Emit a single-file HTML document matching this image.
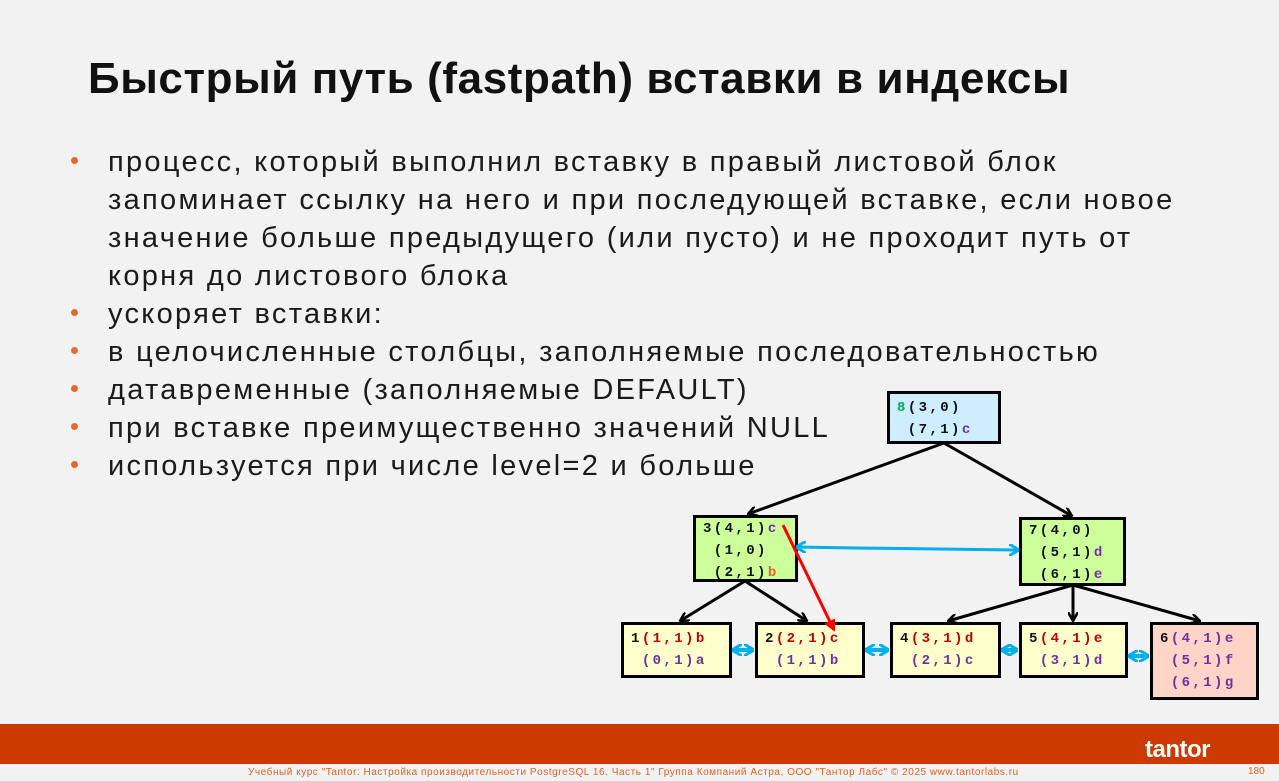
<!DOCTYPE html>
<html><head><meta charset="utf-8"><style>
body{margin:0;width:1279px;height:781px;background:#f2f2f2;position:relative;overflow:hidden;font-family:"Liberation Sans",sans-serif}
.t{position:absolute;left:88px;top:54px;font-size:44px;font-weight:bold;color:#111;white-space:nowrap;letter-spacing:0.6px}
.b{position:absolute;left:108px;font-size:29px;color:#1a1a1a;white-space:nowrap;line-height:38px;letter-spacing:2.3px}
.d{position:absolute;left:71px;width:7px;height:7px;border-radius:50%;background:#e8692e}
.n{position:absolute;border:3px solid #000;box-sizing:border-box;font-family:"Liberation Mono",monospace;font-size:14px;font-weight:bold;letter-spacing:2.4px;line-height:22px;padding:3px 0 0 7px;white-space:pre;color:#111}
.r{color:#c00000}.p{color:#7030a0}.g{color:#00b050}.o{color:#f06020}
.band{position:absolute;left:0;top:724px;width:1279px;height:40px;background:#cc3a00}
.f{position:absolute;top:767px;left:248px;font-size:10px;color:#e06020;white-space:nowrap;letter-spacing:0.55px}
</style></head><body>
<div class="t">Быстрый путь (fastpath) вставки в индексы</div>
<div class="d" style="top:157px"></div>
<div class="b" style="top:143px">процесс, который выполнил вставку в правый листовой блок<br>запоминает ссылку на него и при последующей вставке, если новое<br>значение больше предыдущего (или пусто) и не проходит путь от<br>корня до листового блока</div>
<div class="d" style="top:309px"></div>
<div class="b" style="top:295px">ускоряет вставки:</div>
<div class="d" style="top:347px"></div>
<div class="b" style="top:333px">в целочисленные столбцы, заполняемые последовательностью</div>
<div class="d" style="top:385px"></div>
<div class="b" style="top:371px">датавременные (заполняемые DEFAULT)</div>
<div class="d" style="top:423px"></div>
<div class="b" style="top:409px">при вставке преимущественно значений NULL</div>
<div class="d" style="top:461px"></div>
<div class="b" style="top:447px">используется при числе level=2 и больше</div>

<div class="n" style="left:887px;top:391px;width:114px;height:53px;background:#cdeeff"><span class="g">8</span>(3,0)
 (7,1)<span class="p">c</span></div>
<div class="n" style="left:693px;top:515px;width:105px;height:67px;background:#ccff99;padding-top:0px">3(4,1)<span class="p">c</span>
 (1,0)
 (2,1)<span class="o">b</span></div>
<div class="n" style="left:1019px;top:517px;width:107px;height:69px;background:#ccff99;padding-top:0px">7(4,0)
 (5,1)<span class="p">d</span>
 (6,1)<span class="p">e</span></div>
<div class="n" style="left:621px;top:622px;width:111px;height:56px;background:#ffffcc">1<span class="r">(1,1)b</span>
 <span class="p">(0,1)a</span></div>
<div class="n" style="left:755px;top:622px;width:110px;height:56px;background:#ffffcc">2<span class="r">(2,1)c</span>
 <span class="p">(1,1)b</span></div>
<div class="n" style="left:890px;top:622px;width:111px;height:56px;background:#ffffcc">4<span class="r">(3,1)d</span>
 <span class="p">(2,1)c</span></div>
<div class="n" style="left:1019px;top:622px;width:109px;height:56px;background:#ffffcc">5<span class="r">(4,1)e</span>
 <span class="p">(3,1)d</span></div>
<div class="n" style="left:1150px;top:622px;width:109px;height:78px;background:#ffd5c8">6<span class="p">(4,1)e</span>
 <span class="p">(5,1)f</span>
 <span class="p">(6,1)g</span></div>

<svg style="position:absolute;left:0;top:0" width="1279" height="781">
<defs>
<marker id="a" markerWidth="10" markerHeight="10" refX="9" refY="5" orient="auto" markerUnits="userSpaceOnUse"><path d="M0,0 L9,5 L0,10" fill="none" stroke="#000" stroke-width="2.5"/></marker>
<marker id="ar" markerWidth="12" markerHeight="12" refX="10" refY="6" orient="auto" markerUnits="userSpaceOnUse"><path d="M0,0 L12,6 L0,12 z" fill="#f00"/></marker>
<marker id="ab" markerWidth="10" markerHeight="12" refX="9" refY="6" orient="auto-start-reverse" markerUnits="userSpaceOnUse"><path d="M0,0 L10,6 L0,12" fill="none" stroke="#00b0f0" stroke-width="3"/></marker>
</defs>
<g stroke="#000" stroke-width="3" marker-end="url(#a)">
<line x1="944" y1="443" x2="748" y2="514"/>
<line x1="944" y1="443" x2="1072" y2="516"/>
<line x1="745" y1="581" x2="680" y2="621"/>
<line x1="745" y1="581" x2="807" y2="621"/>
<line x1="1073" y1="585" x2="948" y2="621"/>
<line x1="1073" y1="585" x2="1073" y2="621"/>
<line x1="1073" y1="585" x2="1200" y2="621"/>
</g>
<polyline points="797,547 855,548 1018,550" fill="none" stroke="#00b0f0" stroke-width="3" marker-start="url(#ab)" marker-end="url(#ab)"/>
<g stroke="#00b0f0" stroke-width="4" marker-start="url(#ab)" marker-end="url(#ab)">
<line x1="733" y1="650" x2="753" y2="650"/>
<line x1="866" y1="650" x2="888" y2="650"/>
<line x1="1002" y1="650" x2="1017" y2="650"/>
<line x1="1129" y1="656" x2="1148" y2="656"/>
</g>
<line x1="783" y1="525" x2="834" y2="630" stroke="#f00" stroke-width="3" marker-end="url(#ar)"/>
</svg>

<div class="band"></div>
<div style="position:absolute;left:1145px;top:736px;color:#fff;font-size:24px;font-weight:bold;letter-spacing:-0.5px">tantor</div>
<div class="f">Учебный курс "Tantor: Настройка производительности PostgreSQL 16. Часть 1" Группа Компаний Астра, ООО "Тантор Лабс" © 2025 www.tantorlabs.ru</div>
<div style="position:absolute;left:1248px;top:766px;font-size:10px;color:#e06020">180</div>
</body></html>
